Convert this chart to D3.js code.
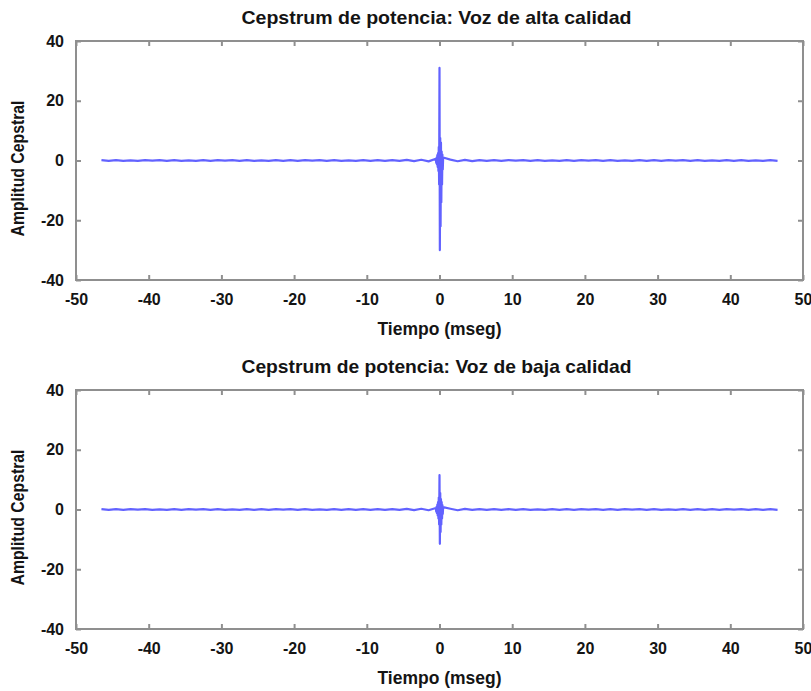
<!DOCTYPE html>
<html><head><meta charset="utf-8">
<script src="https://cdn.jsdelivr.net/npm/d3@7"></script>
<style>
body{margin:0;background:#fff;}
text{font-family:"Liberation Sans",Arial,sans-serif;font-weight:bold;fill:#141414;}
</style></head>
<body><svg id="c" width="811" height="691"></svg>
<script>
// sample times (ms)
const tiempo = [
 -46.5,-45.5,-44.5,-43.5,-42.5,-41.5,-40.5,-39.5,-38.5,-37.5,
 -36.5,-35.5,-34.5,-33.5,-32.5,-31.5,-30.5,-29.5,-28.5,-27.5,
 -26.5,-25.5,-24.5,-23.5,-22.5,-21.5,-20.5,-19.5,-18.5,-17.5,
 -16.5,-15.5,-14.5,-13.5,-12.5,-11.5,-10.5,-9.5,-8.5,-7.5,
 -6.5,-5.5,-4.5,-3.5,-2.5,-1.5,
 -0.5,-0.45,-0.4,-0.35,-0.3,-0.25,-0.2,-0.15,-0.1,-0.05,0.0,0.05,0.1,0.15,0.2,0.25,0.3,0.35,0.4,0.45,0.5,
 1.5,2.5,3.5,4.5,5.5,6.5,7.5,8.5,9.5,10.5,
 11.5,12.5,13.5,14.5,15.5,16.5,17.5,18.5,19.5,20.5,
 21.5,22.5,23.5,24.5,25.5,26.5,27.5,28.5,29.5,30.5,
 31.5,32.5,33.5,34.5,35.5,36.5,37.5,38.5,39.5,40.5,
 41.5,42.5,43.5,44.5,45.5,46.5
];
// Cepstrum amplitude, high quality voice
const cepAlta = [
 0.15,-0.1,0.1,-0.15,0.05,-0.1,0.15,-0.05,0.1,-0.15,
 0.1,-0.1,0.05,-0.15,0.15,-0.1,0.1,-0.05,0.15,-0.1,
 0.1,-0.15,0.05,-0.1,0.15,-0.1,0.1,-0.15,0.1,-0.05,
 0.15,-0.1,0.1,-0.15,0.05,-0.1,0.15,-0.15,0.1,-0.1,
 0.15,-0.15,0.2,-0.2,0.25,-0.3,
 0.6,-0.8,1.0,-1.3,1.8,-2.2,2.5,-3.5,4.5,-8,31,-30,7.5,-22,6,-14,3,-8,2,-3,1,
 0.3,-0.25,0.2,-0.2,0.15,-0.15,0.1,-0.1,0.15,-0.05,
 0.1,-0.15,0.1,-0.1,0.05,-0.15,0.15,-0.1,0.1,-0.05,
 0.15,-0.1,0.1,-0.15,0.05,-0.1,0.15,-0.1,0.1,-0.15,
 0.1,-0.05,0.15,-0.1,0.1,-0.15,0.05,-0.1,0.15,-0.1,
 0.1,-0.15,0.05,-0.1,0.15,-0.1
];
// Cepstrum amplitude, low quality voice
const cepBaja = [
 0.1,-0.15,0.1,-0.1,0.15,-0.05,0.1,-0.15,0.05,-0.1,
 0.15,-0.1,0.1,-0.05,0.1,-0.15,0.15,-0.1,0.05,-0.1,
 0.15,-0.1,0.1,-0.15,0.1,-0.05,0.15,-0.1,0.1,-0.1,
 0.05,-0.15,0.1,-0.1,0.15,-0.1,0.1,-0.15,0.15,-0.1,
 0.15,-0.15,0.2,-0.2,0.25,-0.25,
 0.5,-0.7,0.9,-1.2,1.6,-2,2.5,-3,4,-5,11.5,-11.5,5.5,-7.5,3.5,-5,2.5,-3,1.5,-1.5,0.8,
 0.25,-0.25,0.2,-0.15,0.15,-0.15,0.1,-0.1,0.1,-0.15,
 0.15,-0.1,0.05,-0.1,0.15,-0.1,0.1,-0.15,0.1,-0.05,
 0.1,-0.15,0.15,-0.1,0.1,-0.05,0.15,-0.1,0.1,-0.15,
 0.05,-0.1,0.15,-0.1,0.1,-0.15,0.1,-0.1,0.15,-0.05,
 0.1,-0.1,0.15,-0.15,0.1,-0.1
];
const xTicks = [-50,-40,-30,-20,-10,0,10,20,30,40,50];
const yTicks = [-40,-20,0,20,40];
const titles = ["Cepstrum de potencia: Voz de alta calidad","Cepstrum de potencia: Voz de baja calidad"];
const xLabel = "Tiempo (mseg)";
const yLabel = "Amplitud Cepstral";

const svg = d3.select("#c");
const left = 76, right = 803;
const panels = [{top:41,bottom:280,data:cepAlta,title:titles[0]},{top:390,bottom:629,data:cepBaja,title:titles[1]}];
const x = d3.scaleLinear().domain([-50,50]).range([left,right]);
const fmt = d => String(d);

panels.forEach(p=>{
  const y = d3.scaleLinear().domain([-40,40]).range([p.bottom,p.top]);
  const g = svg.append("g");
  const line = d3.line().x((d,i)=>x(tiempo[i])).y(d=>y(d));
  g.append("path").datum(p.data).attr("d",line).attr("fill","none")
    .attr("stroke","#2020ff").attr("stroke-width",2.2).attr("stroke-opacity",0.7).attr("stroke-linejoin","round");
  g.append("rect").attr("x",left).attr("y",p.top).attr("width",right-left).attr("height",p.bottom-p.top)
    .attr("fill","none").attr("stroke","#8f8f8f").attr("stroke-width",2);
  const ax = (gen,tr)=>{const a=g.append("g").attr("transform",tr).call(gen); a.select(".domain").remove(); a.attr("font-family",null).attr("font-size",null); a.selectAll(".tick line").attr("stroke","#8f8f8f").attr("stroke-width",2); return a;};
  const bx = ax(d3.axisBottom(x).tickValues(xTicks).tickSize(-5).tickPadding(14).tickFormat(fmt),`translate(0,${p.bottom})`);
  bx.selectAll("text").attr("font-size",16).attr("fill","#141414");
  ax(d3.axisTop(x).tickValues(xTicks).tickSize(-5).tickFormat(""),`translate(0,${p.top})`);
  const ly = ax(d3.axisLeft(y).tickValues(yTicks).tickSize(-5).tickPadding(12).tickFormat(fmt),`translate(${left},0)`);
  ly.selectAll("text").attr("font-size",16).attr("fill","#141414");
  ax(d3.axisRight(y).tickValues(yTicks).tickSize(-5).tickFormat(""),`translate(${right},0)`);
  g.append("text").attr("x",x(0)-3).attr("y",p.top-17).attr("text-anchor","middle").attr("font-size",19)
    .attr("textLength",390).attr("lengthAdjust","spacingAndGlyphs").text(p.title);
  g.append("text").attr("x",x(0)).attr("y",p.bottom+55).attr("text-anchor","middle").attr("font-size",19)
    .attr("textLength",124).attr("lengthAdjust","spacingAndGlyphs").text(xLabel);
  g.append("text").attr("transform",`translate(24,${(p.top+p.bottom)/2+8}) rotate(-90)`).attr("text-anchor","middle").attr("font-size",19)
    .attr("textLength",136).attr("lengthAdjust","spacingAndGlyphs").text(yLabel);
});
</script></body></html>
